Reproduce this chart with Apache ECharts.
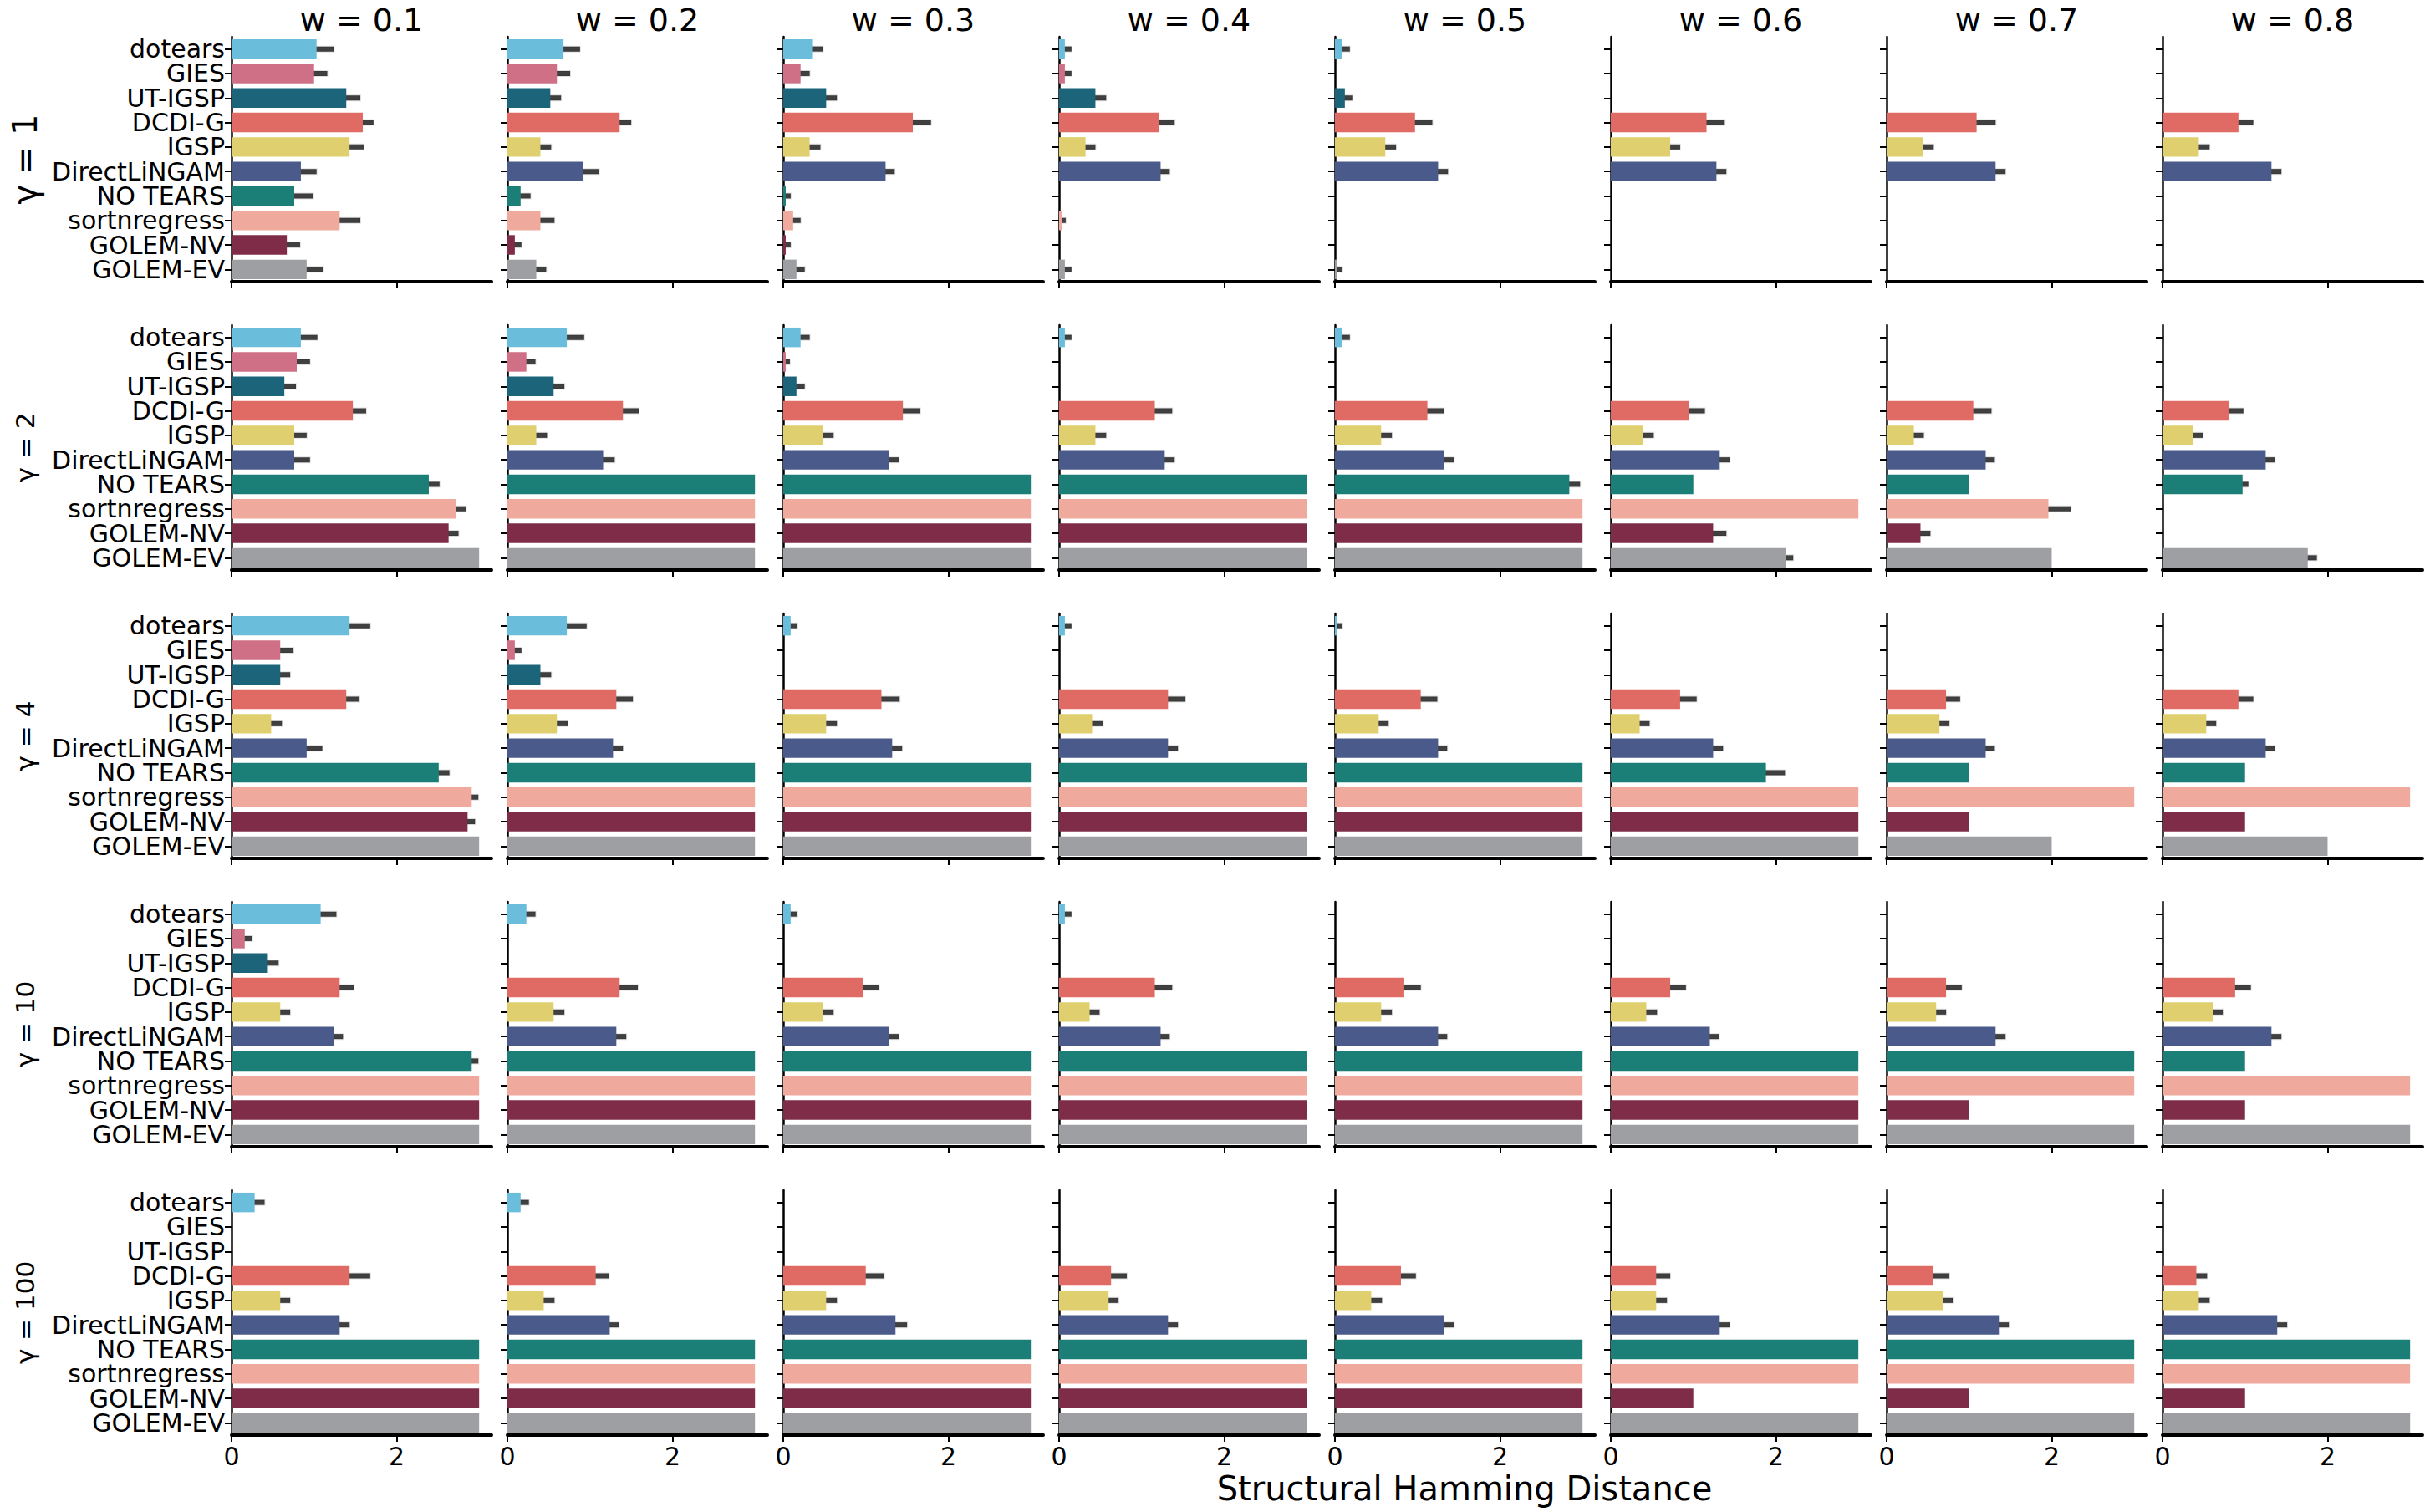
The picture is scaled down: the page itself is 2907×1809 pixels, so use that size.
<!DOCTYPE html>
<html>
<head>
<meta charset="utf-8" />
<title>SHD grid</title>
<script src="https://cdn.jsdelivr.net/npm/echarts@6/dist/echarts.min.js"></script>
<style>
  html, body { margin: 0; padding: 0; background: #fff; }
  #main { width: 2907px; height: 1809px; }
</style>
</head>
<body>
<div id="main"></div>
<script type="text/javascript">
// methods, top to bottom
var methods = ['dotears', 'GIES', 'UT-IGSP', 'DCDI-G', 'IGSP', 'DirectLiNGAM',
               'NO TEARS', 'sortnregress', 'GOLEM-NV', 'GOLEM-EV'];
var colors = ['#6bbddc', '#d07087', '#1b6479', '#e06a64', '#dfcf6f', '#4a5a8b',
              '#1c7f77', '#efaa9d', '#7e2c47', '#9d9fa3'];
var wLabels = ['w = 0.1', 'w = 0.2', 'w = 0.3', 'w = 0.4', 'w = 0.5', 'w = 0.6', 'w = 0.7', 'w = 0.8'];
var gammaLabels = ['γ = 1', 'γ = 2', 'γ = 4', 'γ = 10', 'γ = 100'];
var xTicks = [0, 2];

// mean SHD per w column (one inner array = 10 methods)
var shdG1 = [
  [1.03, 1.00, 1.39, 1.59, 1.43, 0.84, 0.76, 1.31, 0.67, 0.91],
  [0.68, 0.60, 0.52, 1.36, 0.40, 0.92, 0.16, 0.40, 0.09, 0.35],
  [0.35, 0.21, 0.52, 1.57, 0.32, 1.24, 0.03, 0.12, 0.03, 0.16],
  [0.07, 0.07, 0.44, 1.21, 0.32, 1.23, 0, 0.03, 0, 0.07],
  [0.09, 0, 0.12, 0.97, 0.61, 1.25, 0, 0, 0, 0.03],
  [0, 0, 0, 1.16, 0.72, 1.28, 0, 0, 0, 0],
  [0, 0, 0, 1.09, 0.44, 1.32, 0, 0, 0, 0],
  [0, 0, 0, 0.92, 0.44, 1.32, 0, 0, 0, 0]
];
var errG1 = [
  [0.21, 0.16, 0.17, 0.13, 0.17, 0.19, 0.23, 0.25, 0.16, 0.20],
  [0.20, 0.16, 0.13, 0.14, 0.13, 0.19, 0.12, 0.17, 0.08, 0.12],
  [0.13, 0.11, 0.13, 0.22, 0.13, 0.11, 0.06, 0.09, 0.06, 0.10],
  [0.08, 0.08, 0.13, 0.19, 0.12, 0.11, 0, 0.05, 0, 0.08],
  [0.09, 0, 0.09, 0.21, 0.13, 0.12, 0, 0, 0, 0.06],
  [0, 0, 0, 0.22, 0.12, 0.12, 0, 0, 0, 0],
  [0, 0, 0, 0.23, 0.13, 0.12, 0, 0, 0, 0],
  [0, 0, 0, 0.18, 0.13, 0.12, 0, 0, 0, 0]
];
var shdG2 = [
  [0.84, 0.79, 0.64, 1.47, 0.76, 0.76, 2.39, 2.72, 2.63, 3],
  [0.72, 0.23, 0.56, 1.40, 0.35, 1.16, 3, 3, 3, 3],
  [0.21, 0.03, 0.16, 1.45, 0.48, 1.28, 3, 3, 3, 3],
  [0.07, 0, 0, 1.16, 0.44, 1.28, 3, 3, 3, 3],
  [0.09, 0, 0, 1.12, 0.56, 1.32, 2.84, 3, 3, 3],
  [0, 0, 0, 0.95, 0.39, 1.32, 1.0, 3, 1.24, 2.12],
  [0, 0, 0, 1.05, 0.33, 1.20, 1.0, 1.96, 0.41, 2.0],
  [0, 0, 0, 0.80, 0.37, 1.25, 0.97, 0, 0, 1.76]
];
var errG2 = [
  [0.20, 0.16, 0.14, 0.16, 0.15, 0.19, 0.13, 0.12, 0.12, 0],
  [0.21, 0.11, 0.13, 0.19, 0.13, 0.14, 0, 0, 0, 0],
  [0.11, 0.05, 0.10, 0.21, 0.13, 0.12, 0, 0, 0, 0],
  [0.08, 0, 0, 0.21, 0.13, 0.12, 0, 0, 0, 0],
  [0.09, 0, 0, 0.20, 0.13, 0.12, 0.13, 0, 0, 0],
  [0, 0, 0, 0.19, 0.13, 0.12, 0, 0, 0.16, 0.09],
  [0, 0, 0, 0.22, 0.12, 0.11, 0, 0.27, 0.12, 0],
  [0, 0, 0, 0.18, 0.12, 0.11, 0.07, 0, 0, 0.11]
];
var shdG4 = [
  [1.43, 0.59, 0.59, 1.39, 0.48, 0.91, 2.51, 2.91, 2.86, 3],
  [0.72, 0.09, 0.40, 1.32, 0.60, 1.28, 3, 3, 3, 3],
  [0.09, 0, 0, 1.19, 0.52, 1.32, 3, 3, 3, 3],
  [0.07, 0, 0, 1.32, 0.40, 1.32, 3, 3, 3, 3],
  [0.03, 0, 0, 1.04, 0.53, 1.25, 3, 3, 3, 3],
  [0, 0, 0, 0.84, 0.35, 1.24, 1.88, 3, 3, 3],
  [0, 0, 0, 0.72, 0.64, 1.20, 1.0, 3, 1.0, 2.0],
  [0, 0, 0, 0.92, 0.53, 1.25, 1.0, 3, 1.0, 2.0]
];
var errG4 = [
  [0.25, 0.16, 0.12, 0.16, 0.13, 0.19, 0.13, 0.08, 0.09, 0],
  [0.24, 0.08, 0.13, 0.20, 0.13, 0.12, 0, 0, 0, 0],
  [0.08, 0, 0, 0.22, 0.13, 0.12, 0, 0, 0, 0],
  [0.08, 0, 0, 0.21, 0.13, 0.12, 0, 0, 0, 0],
  [0.06, 0, 0, 0.20, 0.12, 0.11, 0, 0, 0, 0],
  [0, 0, 0, 0.20, 0.12, 0.12, 0.23, 0, 0, 0],
  [0, 0, 0, 0.17, 0.12, 0.11, 0, 0, 0, 0],
  [0, 0, 0, 0.18, 0.12, 0.11, 0, 0, 0, 0]
];
var shdG10 = [
  [1.08, 0.16, 0.44, 1.31, 0.59, 1.24, 2.91, 3, 3, 3],
  [0.23, 0, 0, 1.36, 0.56, 1.32, 3, 3, 3, 3],
  [0.09, 0, 0, 0.97, 0.48, 1.28, 3, 3, 3, 3],
  [0.07, 0, 0, 1.16, 0.37, 1.23, 3, 3, 3, 3],
  [0, 0, 0, 0.84, 0.56, 1.25, 3, 3, 3, 3],
  [0, 0, 0, 0.72, 0.43, 1.20, 3, 3, 3, 3],
  [0, 0, 0, 0.72, 0.60, 1.32, 3, 3, 1.0, 3],
  [0, 0, 0, 0.88, 0.61, 1.32, 1.0, 3, 1.0, 3]
];
var errG10 = [
  [0.19, 0.09, 0.13, 0.17, 0.12, 0.11, 0.08, 0, 0, 0],
  [0.11, 0, 0, 0.22, 0.13, 0.12, 0, 0, 0, 0],
  [0.08, 0, 0, 0.19, 0.13, 0.12, 0, 0, 0, 0],
  [0.08, 0, 0, 0.21, 0.12, 0.11, 0, 0, 0, 0],
  [0, 0, 0, 0.20, 0.13, 0.11, 0, 0, 0, 0],
  [0, 0, 0, 0.19, 0.13, 0.11, 0, 0, 0, 0],
  [0, 0, 0, 0.19, 0.12, 0.12, 0, 0, 0, 0],
  [0, 0, 0, 0.19, 0.12, 0.12, 0, 0, 0, 0]
];
var shdG100 = [
  [0.28, 0, 0, 1.43, 0.59, 1.31, 3, 3, 3, 3],
  [0.16, 0, 0, 1.07, 0.44, 1.24, 3, 3, 3, 3],
  [0, 0, 0, 1.00, 0.52, 1.36, 3, 3, 3, 3],
  [0, 0, 0, 0.63, 0.60, 1.32, 3, 3, 3, 3],
  [0, 0, 0, 0.80, 0.44, 1.32, 3, 3, 3, 3],
  [0, 0, 0, 0.55, 0.55, 1.32, 3, 3, 1.0, 3],
  [0, 0, 0, 0.56, 0.68, 1.36, 3, 3, 1.0, 3],
  [0, 0, 0, 0.41, 0.44, 1.39, 3, 3, 1.0, 3]
];
var errG100 = [
  [0.12, 0, 0, 0.25, 0.12, 0.12, 0, 0, 0, 0],
  [0.10, 0, 0, 0.16, 0.13, 0.11, 0, 0, 0, 0],
  [0, 0, 0, 0.22, 0.13, 0.14, 0, 0, 0, 0],
  [0, 0, 0, 0.19, 0.12, 0.12, 0, 0, 0, 0],
  [0, 0, 0, 0.18, 0.13, 0.12, 0, 0, 0, 0],
  [0, 0, 0, 0.17, 0.13, 0.12, 0, 0, 0, 0],
  [0, 0, 0, 0.20, 0.12, 0.12, 0, 0, 0, 0],
  [0, 0, 0, 0.13, 0.13, 0.12, 0, 0, 0, 0]
];

var shdRows = [shdG1, shdG2, shdG4, shdG10, shdG100];
var errRows = [errG1, errG2, errG4, errG10, errG100];

var FONT = 'DejaVu Sans';
var LEFT = 277, COL_STEP = 330, COL_W = 311;
var TOP = 44, ROW_STEP = 345, ROW_H = 293;
var XMAX = 3.15;

var grids = [], xAxes = [], yAxes = [], series = [], graphics = [];

for (var r = 0; r < shdRows.length; r++) {
    for (var c = 0; c < wLabels.length; c++) {
        var idx = grids.length;
        grids.push({
            left: LEFT + c * COL_STEP,
            top: TOP + r * ROW_STEP,
            width: COL_W,
            height: ROW_H
        });
        xAxes.push({
            type: 'value', gridIndex: idx, min: 0, max: XMAX, interval: 2,
            splitLine: { show: false },
            axisLine: { show: true, onZero: false, lineStyle: { color: '#000', width: 4 } },
            axisTick: { show: true, length: 8, customValues: xTicks, lineStyle: { color: '#000', width: 2 } },
            axisLabel: {
                show: r === shdRows.length - 1, customValues: xTicks,
                fontSize: 30, fontFamily: FONT, color: '#000', margin: 10
            }
        });
        yAxes.push({
            type: 'category', gridIndex: idx, data: methods, inverse: true,
            axisLine: { show: true, lineStyle: { color: '#000', width: 2.5 } },
            axisTick: { show: true, alignWithLabel: true, interval: 0, length: 8, lineStyle: { color: '#000', width: 2 } },
            axisLabel: { show: c === 0, interval: 0, fontSize: 30, fontFamily: FONT, color: '#000', margin: 8 },
            splitLine: { show: false }
        });

        var vals = shdRows[r][c], errs = errRows[r][c];
        series.push({
            type: 'bar', xAxisIndex: idx, yAxisIndex: idx,
            barCategoryGap: '20%', silent: true, animation: false,
            data: vals.map(function (v, k) {
                return { value: v, itemStyle: { color: colors[k] } };
            })
        });

        var errData = [];
        vals.forEach(function (v, k) {
            if (errs[k] > 0) {
                errData.push([Math.max(0, v - errs[k]), v + errs[k], k]);
            }
        });
        series.push({
            type: 'custom', xAxisIndex: idx, yAxisIndex: idx,
            silent: true, animation: false,
            encode: { x: [0, 1], y: 2 },
            data: errData,
            renderItem: function (params, api) {
                var p0 = api.coord([api.value(0), api.value(2)]);
                var p1 = api.coord([api.value(1), api.value(2)]);
                return {
                    type: 'rect',
                    shape: { x: p0[0], y: p0[1] - 3, width: p1[0] - p0[0], height: 6 },
                    style: { fill: '#404040', stroke: 'rgba(0,0,0,0.12)', lineWidth: 2 }
                };
            }
        });
    }
}

// column titles
wLabels.forEach(function (t, c) {
    graphics.push({
        type: 'text', x: LEFT + c * COL_STEP + COL_W / 2, y: 24,
        style: {
            text: t, font: '38px "' + FONT + '"', lineHeight: 38, fill: '#000',
            textAlign: 'center', textVerticalAlign: 'middle'
        }
    });
});
// row labels (rotated)
gammaLabels.forEach(function (t, r) {
    graphics.push({
        type: 'text', x: 30, y: TOP + r * ROW_STEP + ROW_H / 2, rotation: Math.PI / 2,
        style: {
            text: t, font: (r === 0 ? 40 : 31) + 'px "' + FONT + '"', fill: '#000',
            textAlign: 'center', textVerticalAlign: 'middle'
        }
    });
});
// shared x label
graphics.push({
    type: 'text', x: 1752, y: 1781,
    style: { text: 'Structural Hamming Distance', font: '40px "' + FONT + '"', fill: '#000', textAlign: 'center', textVerticalAlign: 'middle' }
});

var option = {
    backgroundColor: '#ffffff',
    animation: false,
    grid: grids,
    xAxis: xAxes,
    yAxis: yAxes,
    series: series,
    graphic: graphics
};

var myChart = echarts.init(document.getElementById('main'), null, { renderer: 'svg' });
myChart.setOption(option);
</script>
</body>
</html>
